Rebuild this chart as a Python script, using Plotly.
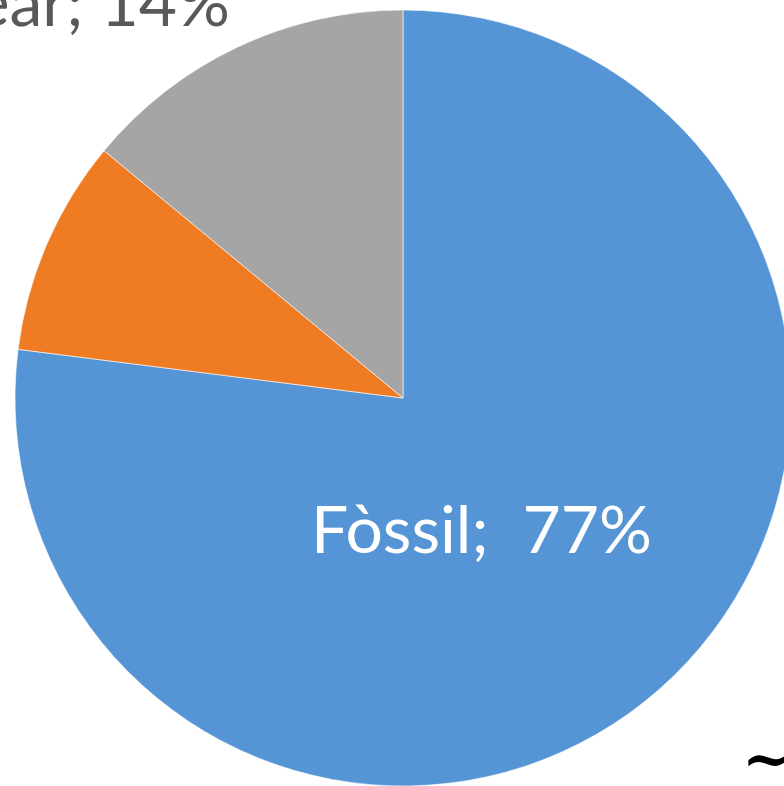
import plotly.graph_objects as go

labels = ["Fòssil", "Renovable", "Nuclear"]
values = [77, 9, 14]
colors = ["#5595d6", "#ef7b22", "#a5a5a5"]

W, H = 806, 796  # figure larger than the window so the pie is clipped at right/bottom
CX, CY, R = 403, 398, 388

fig = go.Figure(go.Pie(
    labels=labels,
    values=values,
    sort=False,
    direction="clockwise",
    rotation=0,
    textinfo="none",
    hoverinfo="label+percent",
    marker=dict(colors=colors, line=dict(color="rgba(255,255,255,0.6)", width=1)),
    domain=dict(x=[0, 1], y=[(H - (CY + R)) / H, (H - (CY - R)) / H]),
    showlegend=False,
))

def px(x, y):
    return x / W, 1 - y / H

font_family = "Lato, 'Open Sans', sans-serif"
x1, y1 = px(481, 527)
fig.add_annotation(x=x1, y=y1, xref="paper", yref="paper", showarrow=False,
                   text=f"{labels[0]};  {values[0]}%",
                   font=dict(family=font_family, size=66, color="white"),
                   xanchor="center", yanchor="middle")
x2, y2 = px(232, 0)
fig.add_annotation(x=x2, y=y2, xref="paper", yref="paper", showarrow=False,
                   text=f"{labels[2]}; {values[2]}%",
                   font=dict(family=font_family, size=66, color="#595959"),
                   xanchor="right", yanchor="middle")
x3, y3 = px(767, 758)
fig.add_annotation(x=x3, y=y3, xref="paper", yref="paper", showarrow=False,
                   text="<b>~</b>",
                   font=dict(family="DejaVu Serif", size=60, color="black"),
                   xanchor="center", yanchor="middle")

fig.update_layout(width=W, height=H, margin=dict(l=0, r=0, t=0, b=0),
                  paper_bgcolor="white", plot_bgcolor="white")

fig.write_html("out.html", config={"displayModeBar": False},
               post_script="document.body.style.margin='0';document.body.style.overflow='hidden';")
